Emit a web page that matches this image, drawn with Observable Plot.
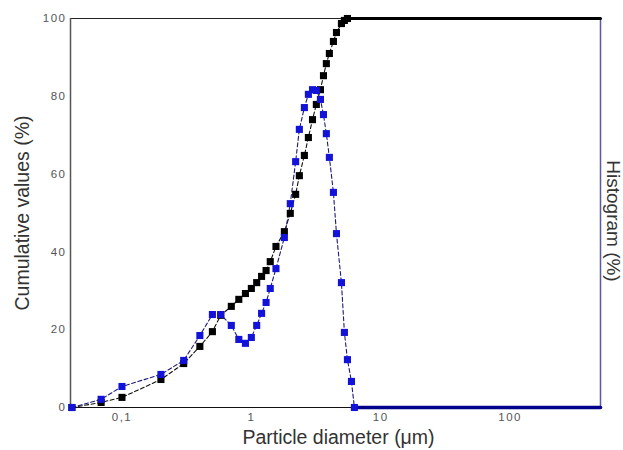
<!DOCTYPE html>
<html><head><meta charset="utf-8">
<script src="https://cdn.jsdelivr.net/npm/d3@7"></script>
<script src="https://cdn.jsdelivr.net/npm/@observablehq/plot@0.6"></script>
<style>
body{margin:0;background:#fff;}
.chart text{font-family:"Liberation Sans",Arial,sans-serif;}
.chart g[aria-label="y-axis tick label"] text,
.chart g[aria-label="x-axis tick label"] text{letter-spacing:1.5px;fill:#555;}
</style></head><body><div id="chart"></div>
<script>
// particle sizes (µm), shared measurement grid
const sizes = [0.041, 0.069, 0.1, 0.2, 0.3, 0.4, 0.5, 0.58, 0.7, 0.8, 0.9, 1.0, 1.1, 1.2, 1.3, 1.4, 1.55, 1.8, 2.0, 2.2, 2.35, 2.57, 2.76, 2.97, 3.18, 3.42, 3.61, 3.8, 4.01, 4.31, 4.55, 4.97, 5.24, 5.53, 5.94, 6.26];
// cumulative values (%)
const cumulative = [0, 1.3, 2.6, 7.2, 11.3, 15.7, 19.5, 23.7, 26.0, 27.8, 29.3, 30.6, 32.1, 33.7, 35.2, 37.5, 41.4, 45.2, 49.9, 54.8, 59.6, 64.8, 69.4, 74.0, 77.9, 81.7, 85.3, 88.4, 91.0, 94.1, 96.4, 98.7, 99.5, 100];
// histogram (plotted in left-axis units)
const histogram = [0, 2.1, 5.4, 8.5, 12.1, 18.5, 23.9, 23.9, 21.1, 17.5, 16.5, 18.0, 21.1, 24.2, 27.0, 30.6, 35.7, 43.7, 52.4, 63.2, 71.5, 77.1, 80.5, 81.7, 81.5, 79.2, 75.3, 70.4, 64.3, 55.3, 44.7, 32.1, 19.3, 12.3, 6.7, 0];
// flat tails beyond the measured points
const cumTailSizes = [5.53, 500];
const cumTail = [100, 100];
const histTailSizes = [6.26, 500];
const histTail = [0, 0];

const xDomain = [0.04, 500];
const yDomain = [0, 100];
const xTicks = [0.1, 1, 10, 100];
const xTickLabels = ["0,1", "1", "10", "100"];
const yTicks = [0, 20, 40, 60, 80, 100];

const cumData = cumulative.map((v, i) => ({x: sizes[i], y: v}));
const histData = histogram.map((v, i) => ({x: sizes[i], y: v}));
const cumTailData = cumTail.map((v, i) => ({x: cumTailSizes[i], y: v}));
const histTailData = histTail.map((v, i) => ({x: histTailSizes[i], y: v}));

const chart = Plot.plot({
  className: "chart",
  width: 623, height: 450,
  marginLeft: 70, marginRight: 23, marginTop: 18, marginBottom: 43,
  style: {fontFamily: "Liberation Sans, Arial, sans-serif", fontSize: "11.5px", background: "#fff"},
  x: {type: "log", domain: xDomain},
  y: {domain: yDomain},
  marks: [
    Plot.ruleY([yDomain[1]], {stroke: "#222", strokeWidth: 1}),
    Plot.ruleY([yDomain[0]], {stroke: "#111", strokeWidth: 1.2}),
    Plot.ruleX([xDomain[0]], {stroke: "#555", strokeWidth: 1.5}),
    Plot.ruleX([xDomain[1]], {stroke: "#5a5aa0", strokeWidth: 1.5}),
    Plot.axisY({ticks: yTicks, tickSize: 0, tickPadding: 4, label: null}),
    Plot.axisX({ticks: xTicks, tickSize: 0, tickPadding: 5, label: null,
      tickFormat: d => xTickLabels[xTicks.indexOf(d)]}),
    Plot.line(cumData, {x: "x", y: "y", stroke: "#111", strokeWidth: 1.1, strokeDasharray: "4,2.5"}),
    Plot.line(histData, {x: "x", y: "y", stroke: "#1c1c78", strokeWidth: 1.1, strokeDasharray: "4,2.5"}),
    Plot.line(cumTailData, {x: "x", y: "y", stroke: "#000", strokeWidth: 3}),
    Plot.line(histTailData, {x: "x", y: "y", stroke: "#00008a", strokeWidth: 3.5}),
    Plot.dot(cumData, {x: "x", y: "y", symbol: "square", r: 4, fill: "#000", stroke: "none"}),
    Plot.dot(histData, {x: "x", y: "y", symbol: "square", r: 4, fill: "#1212d8", stroke: "none"}),
    Plot.text(["Cumulative values (%)"], {frameAnchor: "left", dx: -48, rotate: -90, textAnchor: "middle", fontSize: 19.5, fill: "#333"}),
    Plot.text(["Histogram (%)"], {frameAnchor: "right", dx: 13, dy: 8, rotate: 90, textAnchor: "middle", fontSize: 19, fill: "#333"}),
    Plot.text(["Particle diameter (\u03bcm)"], {frameAnchor: "bottom", dy: 36, dx: 3, textAnchor: "middle", fontSize: 19.5, fill: "#333"})
  ]
});
document.getElementById("chart").appendChild(chart);
</script></body></html>
